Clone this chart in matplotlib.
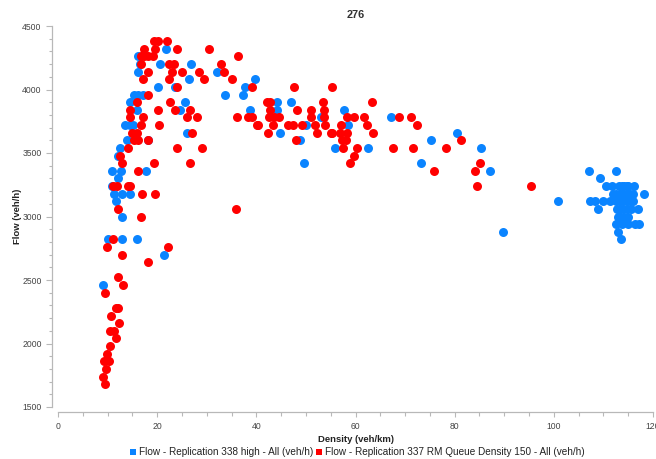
import matplotlib
matplotlib.use("Agg")
import matplotlib.pyplot as plt
from matplotlib.ticker import MultipleLocator
from matplotlib.lines import Line2D

plt.rcParams['font.family'] = ['Liberation Sans', 'DejaVu Sans']

title = "276"
x_label = "Density (veh/km)"
y_label = "Flow (veh/h)"
label_338 = "Flow - Replication 338 high - All (veh/h)"
label_337 = "Flow - Replication 337 RM Queue Density 150 - All (veh/h)"

# Replication 338 (flow level -> densities observed at that level)
rep338 = {
    4320: [21.8],
    4260: [16.2],
    4200: [16.6, 20.6, 26.8],
    4140: [16.1, 32.0],
    4080: [26.4, 39.7],
    4020: [20.1, 23.5, 37.8],
    3960: [15.3, 16.2, 17.1, 33.7, 37.4],
    3900: [14.5, 25.7, 44.1, 47.0],
    3840: [16.0, 24.7, 38.7, 44.1, 57.7],
    3780: [53.0, 67.1],
    3720: [13.5, 14.5, 15.2, 50.1, 58.4],
    3660: [26.1, 44.8, 80.5],
    3600: [13.9, 18.2, 48.8, 75.3],
    3540: [12.6, 55.8, 62.6, 85.4],
    3480: [12.2],
    3420: [49.7, 73.2],
    3360: [10.9, 12.7, 17.7, 87.1, 107.1, 112.5],
    3300: [12.2, 109.4],
    3240: [10.9, 110.6, 111.8, 113.2, 114.1, 114.7, 115.0, 116.2, 113.7],
    3180: [11.3, 13.0, 14.5, 111.9, 112.6, 113.3, 114.7, 115.4, 116.0, 118.1, 114.0],
    3120: [11.6, 100.8, 107.3, 108.3, 109.9, 111.3, 112.5, 113.3, 114.7,
           115.3, 116.0, 113.9],
    3060: [109.0, 112.8, 113.3, 114.7, 115.6, 117.0, 114.0],
    3000: [13.0, 112.9, 113.3, 114.2, 115.0],
    2940: [112.5, 113.7, 115.0, 116.3, 117.2],
    2880: [89.7, 113.0],
    2820: [10.1, 13.0, 15.9, 113.5],
    2700: [21.4],
    2460: [9.1],
}

# Replication 337 (flow level -> densities observed at that level)
rep337 = {
    4380: [19.3, 20.2, 21.9],
    4320: [17.3, 19.5, 24.1, 30.5],
    4260: [16.7, 17.4, 18.2, 19.1, 36.4],
    4200: [16.7, 22.4, 23.3, 32.9],
    4140: [18.2, 22.9, 25.1, 28.5, 33.4],
    4080: [17.2, 22.3, 29.4, 35.1],
    4020: [24.1, 39.1, 47.6, 55.2],
    3960: [18.1],
    3900: [16.0, 22.6, 42.1, 42.7, 53.4, 63.4],
    3840: [14.5, 20.1, 23.5, 26.6, 42.7, 48.3, 51.1, 53.6],
    3780: [14.5, 17.1, 26.0, 28.0, 36.2, 38.4, 39.1, 42.6, 43.6, 44.6, 51.1,
           53.7, 58.3, 59.7, 61.7, 68.8, 71.2],
    3720: [16.7, 20.4, 40.1, 40.4, 43.4, 46.4, 47.4, 49.3, 51.8, 53.8, 57.0,
           62.4, 72.5],
    3660: [15.0, 15.9, 27.1, 42.4, 52.2, 55.0, 55.2, 56.9, 58.2, 63.5],
    3600: [15.4, 16.2, 18.1, 47.9, 57.2, 58.0, 81.3],
    3540: [14.1, 24.1, 29.1, 57.5, 60.3, 67.6, 71.6, 78.2],
    3480: [12.6, 59.7],
    3420: [13.0, 19.4, 26.6, 58.8, 85.1],
    3360: [16.1, 75.9, 84.1],
    3240: [11.1, 11.8, 14.1, 14.5, 84.5, 95.3],
    3180: [16.9, 19.6],
    3060: [12.2, 35.9],
    3000: [16.7],
    2820: [11.1],
    2760: [9.9, 22.1],
    2700: [13.0],
    2640: [18.1],
    2520: [12.0],
    2460: [13.2],
    2400: [9.4],
    2280: [11.6, 12.2],
    2220: [10.7],
    2160: [12.4],
    2100: [10.5, 11.3],
    2040: [11.7],
    1980: [10.4],
    1920: [9.9],
    1860: [9.3, 10.3],
    1800: [9.7],
    1740: [9.1],
    1680: [9.5],
}

BLUE = "#0a84ff"
RED = "#ff0000"
GRID = "#b8b8b8"
TEXT = "#444444"


def flatten(series):
    xs, ys = [], []
    for flow, dens in series.items():
        for d in dens:
            xs.append(d)
            ys.append(flow)
    return xs, ys


fig = plt.figure(figsize=(6.56, 4.59), dpi=100)
ax = fig.add_axes([58 / 656, 1 - 407 / 459, 595 / 656, 381 / 459])

bx, by = flatten(rep338)
rx, ry = flatten(rep337)
ax.scatter(bx, by, s=42, color=BLUE, linewidths=0, zorder=3)
ax.scatter(rx, ry, s=42, color=RED, linewidths=0, zorder=4)

ax.set_xlim(0, 120)
ax.set_ylim(1500, 4500)
ax.xaxis.set_major_locator(MultipleLocator(20))
ax.xaxis.set_minor_locator(MultipleLocator(5))
ax.yaxis.set_major_locator(MultipleLocator(500))
ax.yaxis.set_minor_locator(MultipleLocator(100))

for side in ("top", "right"):
    ax.spines[side].set_visible(False)
ax.spines["left"].set_position(("outward", 4.3))
ax.spines["bottom"].set_position(("outward", 3.6))
for side in ("left", "bottom"):
    ax.spines[side].set_color(GRID)
    ax.spines[side].set_linewidth(0.9)

ax.tick_params(axis="both", which="both", color=GRID, width=0.8,
               labelcolor=TEXT, labelsize=6.2)
ax.tick_params(axis="y", which="major", length=4.5, pad=3)
ax.tick_params(axis="y", which="minor", length=2.5)
ax.tick_params(axis="x", which="major", length=3.5, pad=4)
ax.tick_params(axis="x", which="minor", length=3.0)

ax.set_title(title, fontsize=7.8, fontweight="bold", color="#333333", pad=6)
ax.set_xlabel(x_label, fontsize=6.8, fontweight="bold", color="#222222",
              labelpad=2.5)
ax.set_ylabel(y_label, fontsize=6.8, fontweight="bold", color="#222222",
              labelpad=0)

handles = [
    Line2D([], [], marker="s", linestyle="none", markersize=4.5,
           markerfacecolor=BLUE, markeredgewidth=0, label=label_338),
    Line2D([], [], marker="s", linestyle="none", markersize=4.5,
           markerfacecolor=RED, markeredgewidth=0, label=label_337),
]
fig.legend(handles=handles, loc="center", bbox_to_anchor=(357 / 656, 1 - 452 / 459),
           ncol=2, frameon=False, fontsize=7.2, handlelength=0.6,
           handletextpad=0.3, columnspacing=0.3, labelcolor="#222222")

fig.savefig("out.png", dpi=100)
